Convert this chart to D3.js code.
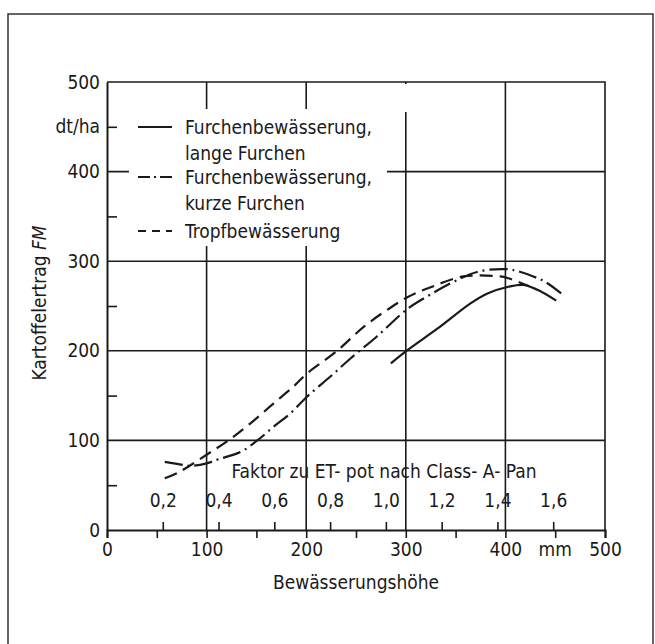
<!DOCTYPE html>
<html>
<head>
<meta charset="utf-8">
<script src="https://cdn.jsdelivr.net/npm/d3@7"></script>
<style>
  body { margin: 0; background: #fff; }
  text { font-family: "DejaVu Sans Condensed", "DejaVu Sans", sans-serif; font-stretch: condensed; fill: #1a1a1a; }
</style>
</head>
<body>
<script>
// Bewässerungshöhe (mm) / Kartoffelertrag FM (dt/ha)
const mmTicks = [0, 100, 200, 300, 400, 500];
const fmTicks = [0, 100, 200, 300, 400, 500];
const fmMinor = [50, 150, 250, 350, 450];
const factorTicks = [0.2, 0.4, 0.6, 0.8, 1.0, 1.2, 1.4, 1.6];

// Furchenbewässerung, lange Furchen
const langeMM = [285, 302, 332, 365, 382, 403, 418, 436, 451];
const langeFM = [186, 201, 225, 253, 264, 271.5, 273.5, 266, 256];

// Furchenbewässerung, kurze Furchen
const kurzeMM = [58, 77, 84, 100, 112, 134, 151, 167, 184, 201, 224, 245, 271, 302, 325, 348, 375, 403, 412, 428, 440, 456];
const kurzeFM = [76, 72.5, 71.5, 74.4, 79, 87, 100, 115, 130, 149, 171, 192, 216, 247, 263, 277, 289, 291, 289, 283, 277, 264];

// Tropfbewässerung
const tropfMM = [58, 73, 100, 122, 144, 167, 189, 200, 231, 258, 281, 302, 325, 358, 395, 403, 415, 424];
const tropfFM = [57.7, 65, 84, 100, 119, 141, 162, 174, 200, 227, 245.5, 260, 271, 283, 283, 281, 276, 272];

const series = [
  { name: ["Furchenbewässerung,", "lange Furchen"], mm: langeMM, fm: langeFM, dash: null, legendDash: null },
  { name: ["Furchenbewässerung,", "kurze Furchen"], mm: kurzeMM, fm: kurzeFM, dash: "18,5,2,5", legendDash: "12,4,2,4" },
  { name: ["Tropfbewässerung"], mm: tropfMM, fm: tropfFM, dash: "13,7", legendDash: "8,6" },
];

const W = 655, H = 644;
const ink = "#1a1a1a";

const x = d3.scaleLinear().domain([0, 500]).range([107, 605]);
const y = d3.scaleLinear().domain([0, 500]).range([530, 82]);
// Faktor zu ET-pot: 1,0 entspricht ca. 280 mm
const xf = d3.scaleLinear().domain([0, 500 / 280]).range([107, 605]);

const svg = d3.select("body").append("svg").attr("width", W).attr("height", H);

// outer frame
svg.append("path")
  .attr("d", `M8,${H + 2}V14H653V${H + 2}`)
  .attr("fill", "none").attr("stroke", "#333").attr("stroke-width", 1.5);

// grid
const grid = svg.append("g").attr("stroke", ink).attr("stroke-width", 1.6);
grid.selectAll("line.h")
  .data(fmTicks.filter((d) => d > 0 && d < 500))
  .join("line")
  .attr("x1", x(0)).attr("x2", x(500))
  .attr("y1", (d) => y(d)).attr("y2", (d) => y(d));
grid.selectAll("line.v")
  .data(mmTicks.filter((d) => d > 0 && d < 500))
  .join("line")
  .attr("x1", (d) => x(d)).attr("x2", (d) => x(d))
  .attr("y1", y(500)).attr("y2", y(0));

// legend background hides grid
svg.append("rect").attr("x", 129).attr("y", 109).attr("width", 258).attr("height", 137).attr("fill", "#fff");
svg.append("rect").attr("x", x(300) - 5).attr("y", y(500) + 2).attr("width", 10).attr("height", 28).attr("fill", "#fff");

// frame top / right
svg.append("path")
  .attr("d", `M${x(0)},${y(500)}H${x(500)}V${y(0)}`)
  .attr("fill", "none").attr("stroke", ink).attr("stroke-width", 1.6);

// y axis
const yAxis = svg.append("g").attr("transform", `translate(${x(0)},0)`)
  .call(d3.axisLeft(y).tickValues(fmTicks).tickSize(0).tickPadding(7));
yAxis.select(".domain").attr("stroke", ink).attr("stroke-width", 2);
yAxis.selectAll("text").attr("font-size", 19).style("fill", ink);

const yMinor = svg.append("g").attr("transform", `translate(${x(0)},0)`)
  .call(d3.axisRight(y).tickValues(fmMinor).tickSize(10).tickFormat(""));
yMinor.select(".domain").remove();
yMinor.selectAll("line").attr("stroke", ink).attr("stroke-width", 1.6);

svg.append("text")
  .attr("x", x(0) - 7).attr("y", y(450)).attr("dy", "0.32em")
  .attr("text-anchor", "end").attr("font-size", 19).text("dt/ha");

// x axis (mm)
const xAxis = svg.append("g").attr("transform", `translate(0,${y(0)})`)
  .call(d3.axisBottom(x).tickValues(d3.range(0, 501, 50)).tickSize(8).tickPadding(5)
    .tickFormat((d) => (d % 100 === 0 ? d : "")));
xAxis.select(".domain").attr("stroke", ink).attr("stroke-width", 2);
xAxis.selectAll("line").attr("stroke", ink).attr("stroke-width", 1.6);
xAxis.selectAll("text").attr("font-size", 19).style("fill", ink);

svg.append("text")
  .attr("x", x(450)).attr("y", y(0) + 13).attr("dy", "0.71em")
  .attr("text-anchor", "middle").attr("font-size", 19).text("mm");

// factor axis
const fAxis = svg.append("g").attr("transform", `translate(0,${y(0)})`)
  .call(d3.axisTop(xf).tickValues(factorTicks).tickSize(8).tickPadding(15)
    .tickFormat((d) => d3.format(".1f")(d).replace(".", ",")));
fAxis.select(".domain").remove();
fAxis.selectAll("line").attr("stroke", ink).attr("stroke-width", 1.6);
fAxis.selectAll("text").attr("font-size", 19).style("fill", ink);

svg.append("text")
  .attr("x", 384).attr("y", 478)
  .attr("text-anchor", "middle").attr("font-size", 19)
  .text("Faktor zu ET- pot nach Class- A- Pan");

// axis titles
svg.append("text")
  .attr("transform", `translate(46,303) rotate(-90)`)
  .attr("text-anchor", "middle").attr("font-size", 19)
  .call((t) => {
    t.append("tspan").text("Kartoffelertrag ");
    t.append("tspan").attr("font-style", "italic").text("FM");
  });

svg.append("text")
  .attr("x", 356).attr("y", 589)
  .attr("text-anchor", "middle").attr("font-size", 19)
  .text("Bewässerungshöhe");

// curves
const line = d3.line()
  .x((d) => x(d[0]))
  .y((d) => y(d[1]))
  .curve(d3.curveCatmullRom.alpha(0.5));

svg.append("g")
  .attr("fill", "none")
  .attr("stroke", ink)
  .attr("stroke-width", 2.2)
  .selectAll("path")
  .data(series)
  .join("path")
  .attr("stroke-dasharray", (d) => d.dash)
  .attr("d", (d) => line(d.mm.map((m, i) => [m, d.fm[i]])));

// legend
const legendRowY = [127, 177, 231];
const legend = svg.append("g");
series.forEach((s, i) => {
  const ly = legendRowY[i];
  legend.append("line")
    .attr("x1", 138).attr("x2", 172).attr("y1", ly).attr("y2", ly)
    .attr("stroke", ink).attr("stroke-width", 2.2)
    .attr("stroke-dasharray", s.legendDash);
  s.name.forEach((n, j) => {
    legend.append("text")
      .attr("x", 185).attr("y", ly + j * 26).attr("dy", "0.35em")
      .attr("font-size", 19).text(n);
  });
});
</script>
</body>
</html>
